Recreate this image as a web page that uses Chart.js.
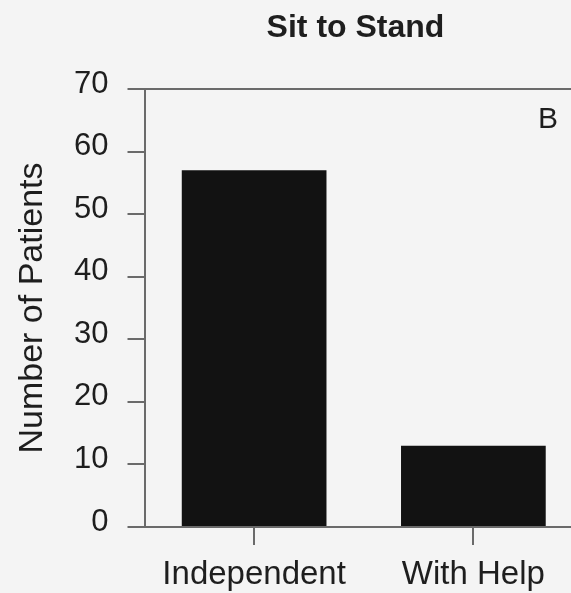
<!DOCTYPE html>
<html>
<head>
<meta charset="utf-8">
<script src="https://cdn.jsdelivr.net/npm/chart.js@4.4.1/dist/chart.umd.min.js"></script>
<style>
  html, body { margin: 0; padding: 0; background: #f4f4f4; overflow: hidden; }
  #wrap { width: 571px; height: 593px; overflow: hidden; }
</style>
</head>
<body>
<div id="wrap"><canvas id="sitChart" width="583" height="593"></canvas></div>
<script>
const categories = ["Independent", "With Help"];
const patients = [57, 13];
const yTicks = [0, 10, 20, 30, 40, 50, 60, 70];
const chartTitle = "Sit to Stand";
const panelLetter = "B";

const FONT = "'Liberation Sans', Arial, Helvetica, sans-serif";
const AXIS_GRAY = "#6a6a6a";
const TEXT = "#1e1e1e";

// title sits over the plot (not the canvas) and the panel letter in the top right
const extraText = {
  id: "extraText",
  afterDraw(chart) {
    const { ctx, chartArea } = chart;
    ctx.save();
    ctx.fillStyle = TEXT;
    ctx.textAlign = "center";
    ctx.textBaseline = "middle";
    ctx.font = "bold 32px " + FONT;
    ctx.fillText(chartTitle, chartArea.left + 211, 28);
    ctx.font = "30px " + FONT;
    ctx.fillText(panelLetter, chartArea.right - 35, chartArea.top + 31);
    ctx.restore();
  }
};

new Chart(document.getElementById("sitChart"), {
  type: "bar",
  data: {
    labels: categories,
    datasets: [{
      data: patients,
      backgroundColor: "#121212",
      borderWidth: 0,
      barPercentage: 0.66,
      categoryPercentage: 1
    }]
  },
  options: {
    responsive: false,
    animation: false,
    layout: { padding: { left: 0, right: 0, top: 89, bottom: 0 } },
    plugins: {
      legend: { display: false },
      tooltip: { enabled: false },
      title: { display: false }
    },
    scales: {
      x: {
        offset: true,
        afterFit(scale) { scale.height = 66; },
        grid: {
          display: true,
          drawOnChartArea: false,
          offset: false,
          color: AXIS_GRAY,
          lineWidth: 2,
          tickLength: 18
        },
        border: { display: true, color: AXIS_GRAY, width: 2 },
        ticks: {
          color: TEXT,
          padding: 10,
          font: { family: FONT, size: 33 },
          maxRotation: 0
        }
      },
      y: {
        min: 0,
        max: 70,
        afterFit(scale) { scale.width = 144.5; },
        afterBuildTicks(scale) {
          scale.ticks = yTicks.map(v => ({ value: v }));
        },
        grid: {
          drawOnChartArea: true,
          color: ctx => (ctx.tick && ctx.tick.value === 70 ? AXIS_GRAY : "rgba(0,0,0,0)"),
          tickColor: AXIS_GRAY,
          lineWidth: 2,
          tickLength: 17
        },
        border: { display: true, color: AXIS_GRAY, width: 2 },
        ticks: {
          color: TEXT,
          padding: 19,
          labelOffset: -5,
          font: { family: FONT, size: 31 }
        },
        title: {
          display: true,
          text: "Number of Patients",
          color: TEXT,
          font: { family: FONT, size: 34 },
          padding: { top: 12, bottom: 0 }
        }
      }
    }
  },
  plugins: [extraText]
});
</script>
</body>
</html>
